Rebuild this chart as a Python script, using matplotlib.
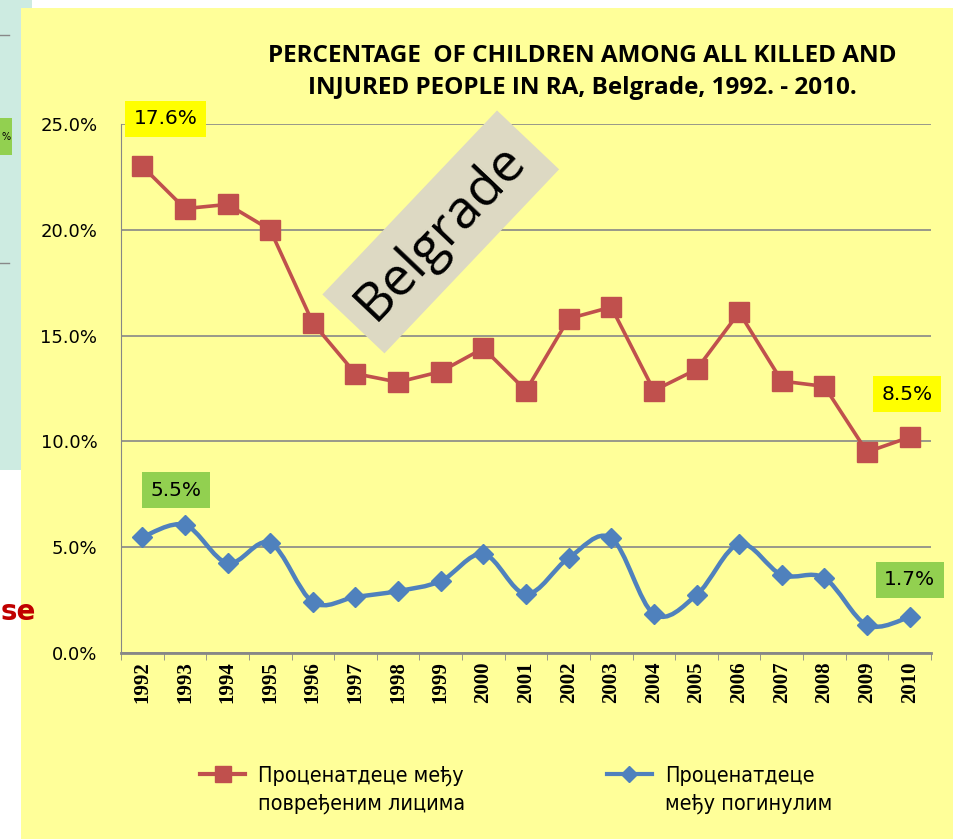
import numpy as np
import matplotlib.pyplot as plt
from matplotlib.path import Path
from matplotlib.patches import PathPatch, Rectangle
from matplotlib.lines import Line2D

# data
years = ['1992', '1993', '1994', '1995', '1996', '1997', '1998', '1999', '2000', '2001',
         '2002', '2003', '2004', '2005', '2006', '2007', '2008', '2009', '2010']
injured = [23.0, 21.0, 21.2, 20.0, 15.6, 13.2, 12.8, 13.3, 14.4, 12.4,
           15.8, 16.35, 12.4, 13.4, 16.1, 12.85, 12.6, 9.5, 10.2]
killed = [5.48, 6.05, 4.25, 5.2, 2.41, 2.65, 2.93, 3.4, 4.68, 2.79,
          4.49, 5.43, 1.84, 2.74, 5.15, 3.69, 3.54, 1.32, 1.7]
yticks = [0, 5, 10, 15, 20, 25]
label_injured = 'Проценатдеце међу\nповређеним лицима'
label_killed = 'Проценатдеце\nмеђу погинулим'
title = 'PERCENTAGE  OF CHILDREN AMONG ALL KILLED AND\nINJURED PEOPLE IN RA, Belgrade, 1992. - 2010.'

RED = '#C0504D'
BLUE = '#4F81BD'
GRID = '#878787'

W, H = 954, 839
fig = plt.figure(figsize=(W / 100, H / 100), dpi=100)
fig.patch.set_facecolor('white')


def fx(px):
    return px / W


def fy(py):
    return 1 - py / H


# slide bits around the chart (kept below the axes)
fig.patches.append(Rectangle((0, fy(470)), fx(32), fy(0) - fy(470), transform=fig.transFigure,
                             facecolor='#CDEBE1', edgecolor='none', zorder=-5))
fig.lines.append(Line2D([0, fx(9)], [fy(35), fy(35)], transform=fig.transFigure, color='#888888',
                        lw=1, zorder=-4))
fig.lines.append(Line2D([0, fx(9)], [fy(263), fy(263)], transform=fig.transFigure, color='#888888',
                        lw=1, zorder=-4))
fig.patches.append(Rectangle((0, fy(155)), fx(12), fy(118) - fy(155), transform=fig.transFigure,
                             facecolor='#92D050', edgecolor='none', zorder=-4))
fig.text(fx(1), fy(137), '%', ha='left', va='center', fontsize=7, zorder=-3)
fig.patches.append(Rectangle((fx(21), 0), 1 - fx(21), fy(8), transform=fig.transFigure,
                             facecolor='#FFFF99', edgecolor='none', zorder=-2))
fig.text(fx(1), fy(612), 'se', ha='left', va='center', fontsize=20, fontweight='bold',
         color='#C00000', zorder=5, family='DejaVu Sans')

ax = fig.add_axes([fx(121), fy(653), fx(931) - fx(121), fy(124) - fy(653)])
ax.set_facecolor('none')
x = np.arange(len(years))

ax.plot(x, injured, color=RED, lw=2.6, marker='s', markersize=14, zorder=3)

# smooth blue line (excel style bezier through the points)
pts = np.column_stack([x, killed])
verts = [pts[0]]
codes = [Path.MOVETO]
for i in range(len(pts) - 1):
    p0 = pts[i - 1] if i > 0 else pts[i]
    p3 = pts[i + 2] if i + 2 < len(pts) else pts[i + 1]
    c1 = pts[i] + (pts[i + 1] - p0) / 6
    c2 = pts[i + 1] - (p3 - pts[i]) / 6
    verts += [c1, c2, pts[i + 1]]
    codes += [Path.CURVE4] * 3
ax.add_patch(PathPatch(Path(verts, codes), facecolor='none', edgecolor=BLUE, lw=3.2, zorder=3))
ax.plot(x, killed, color=BLUE, linestyle='none', marker='D', markersize=10, zorder=4)

ax.set_xlim(-0.5, len(years) - 0.5)
ax.set_ylim(0, 25)
ax.set_yticks(yticks)
ax.set_yticklabels(['%.1f%%' % v for v in yticks], fontsize=13, family='DejaVu Sans')
ax.set_xticks(x)
ax.set_xticklabels(years, rotation=90, fontsize=15, fontweight='bold', family='Liberation Serif')
ax.set_xticks(np.arange(-0.5, len(years)), minor=True)
ax.tick_params(axis='x', which='major', length=0, pad=6)
ax.tick_params(axis='x', which='minor', length=5, color=GRID)
ax.tick_params(axis='y', length=0, pad=17)
ax.grid(axis='y', color=GRID, lw=1.2)
ax.set_axisbelow(True)
for s in ['top', 'right']:
    ax.spines[s].set_visible(False)
ax.spines['left'].set_color(GRID)
ax.spines['bottom'].set_color(GRID)
ax.spines['bottom'].set_linewidth(2)

# title
fig.text(fx(582), fy(72), title, ha='center', va='center', fontsize=17.5, fontweight='bold',
         family='Open Sans', linespacing=1.45)

# value boxes
def tag(xv, yv, txt, col):
    ax.text(xv, yv, txt, ha='center', va='center', fontsize=14.5, family='DejaVu Sans',
            bbox=dict(boxstyle='square,pad=0.42', facecolor=col, edgecolor='none'), zorder=5,
            clip_on=False)

tag(0.54, 25.24, '17.6%', '#FFFF00')
tag(17.94, 12.22, '8.5%', '#FFFF00')
tag(0.79, 7.70, '5.5%', '#92D050')
tag(18.0, 3.45, '1.7%', '#92D050')

# rotated Belgrade tag
ax.text(7.0, 19.9, 'Belgrade', rotation=46.5, ha='center', va='center', fontsize=38.5,
        family='Open Sans', bbox=dict(boxstyle='square,pad=0.3', facecolor='#DDD9C3', edgecolor='none'),
        zorder=2)

# legend, laid out like the excel one (handle level with the first line)
leg_font = dict(family='DejaVu Sans', stretch='condensed', size=15.5)
for hx, col, mk, ms, lab in [(200, RED, 's', 12, label_injured), (607, BLUE, 'D', 8, label_killed)]:
    fig.lines.append(Line2D([fx(hx), fx(hx + 45)], [fy(774), fy(774)], transform=fig.transFigure,
                            color=col, lw=3))
    fig.lines.append(Line2D([fx(hx + 22.5)], [fy(774)], transform=fig.transFigure, color=col,
                            marker=mk, markersize=ms, linestyle='none'))
    fig.text(fx(hx + 58), fy(766), lab, ha='left', va='top', linespacing=1.45, **leg_font)

fig.savefig('out.png', dpi=100)
